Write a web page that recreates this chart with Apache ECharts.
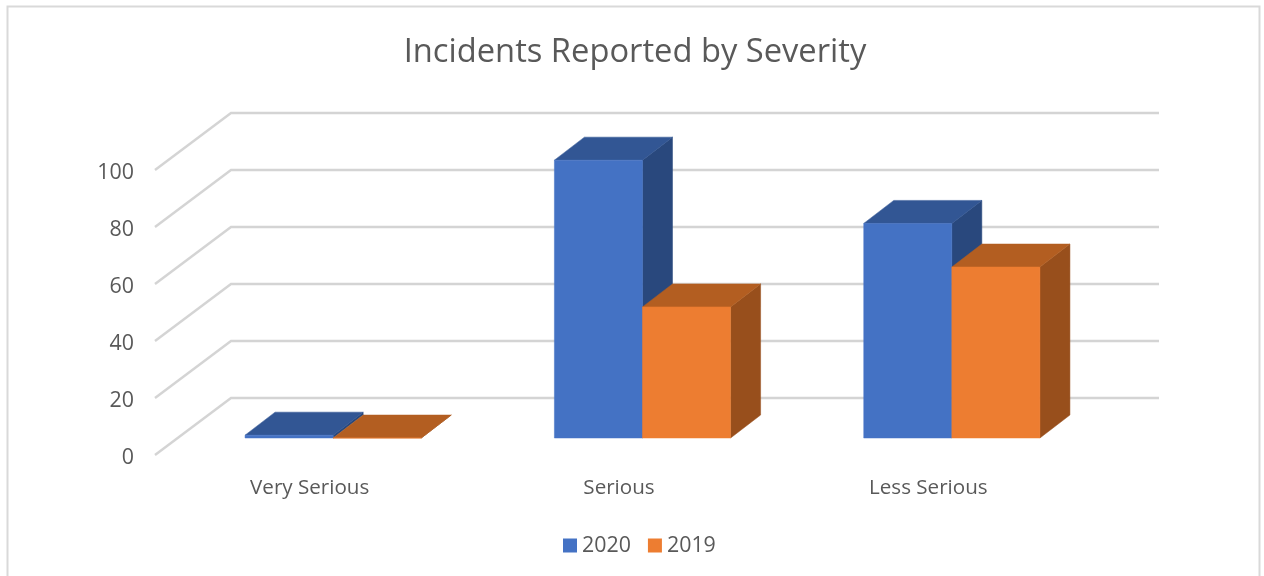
<!DOCTYPE html>
<html>
<head>
<meta charset="utf-8">
<style>html,body{margin:0;padding:0;background:#fff}#c{width:1264px;height:576px}</style>
<script src="https://cdn.jsdelivr.net/npm/echarts@6/dist/echarts.min.js"></script>
</head>
<body>
<div id="c"></div>
<script>
const titleText = 'Incidents Reported by Severity';
const categories = ['Very Serious', 'Serious', 'Less Serious'];
const values2020 = [1, 97.5, 75.3];
const values2019 = [0, 46, 60];
const gridTicks = [0, 20, 40, 60, 80, 100];

const FONT = '"Open Sans", "Noto Sans", sans-serif';
const TEXT = '#595959';
// oblique projection of the chart's depth, in pixels
const WALL = [76, -57];
const BAR_OFFSET = [23.5, -17];
const BAR_DEPTH = [30, -23];
const BAR_SHARE = 88 / 309;

function barRender(sign, front, top, side) {
  return function (params, api) {
    const cat = api.value(0), val = api.value(1);
    const base = api.coord([cat, 0]);
    const head = api.coord([cat, val]);
    const w = api.size([1, 0])[0] * BAR_SHARE;
    const x0 = base[0] + BAR_OFFSET[0] + (sign < 0 ? -w : 0);
    const x1 = x0 + w;
    const yb = base[1] + BAR_OFFSET[1];
    const yt = head[1] + BAR_OFFSET[1];
    const dx = BAR_DEPTH[0], dy = BAR_DEPTH[1];
    const poly = (pts, c) => ({
      type: 'polygon',
      shape: { points: pts },
      style: { fill: c, stroke: c, lineWidth: 0.5 }
    });
    return {
      type: 'group',
      children: [
        poly([[x1, yb], [x1 + dx, yb + dy], [x1 + dx, yt + dy], [x1, yt]], side),
        poly([[x0, yt], [x1, yt], [x1 + dx, yt + dy], [x0 + dx, yt + dy]], top),
        poly([[x0, yb], [x1, yb], [x1, yt], [x0, yt]], front)
      ]
    };
  };
}

function gridRender(params, api) {
  const p = api.coord([0, api.value(1)]);
  const cs = params.coordSys;
  const xa = cs.x, y = p[1];
  return {
    type: 'polyline',
    shape: { points: [[xa, y], [xa + WALL[0], y + WALL[1]], [xa + cs.width + WALL[0], y + WALL[1]]] },
    style: { fill: 'none', stroke: '#d4d4d4', lineWidth: 2.4 }
  };
}

const chart = echarts.init(document.getElementById('c'), null, { renderer: 'canvas' });
chart.setOption({
  animation: false,
  backgroundColor: '#fff',
  textStyle: { fontFamily: FONT },
  title: {
    text: titleText,
    left: 630,
    top: 31,
    textAlign: 'center',
    textStyle: { fontFamily: FONT, fontSize: 32.7, fontWeight: 'normal', color: TEXT }
  },
  legend: {
    data: ['2020', '2019'],
    left: 558,
    top: 530,
    icon: 'rect',
    itemWidth: 14,
    itemHeight: 14,
    itemGap: 17,
    textStyle: { fontFamily: FONT, fontSize: 21.4, color: TEXT, padding: [0, 0, 0, 0] }
  },
  grid: { left: 155, width: 928, top: 170, height: 285 },
  xAxis: {
    type: 'category',
    data: categories,
    axisLine: { show: false },
    axisTick: { show: false },
    splitLine: { show: false },
    axisLabel: { fontFamily: FONT, fontSize: 20.6, color: TEXT, margin: 23 }
  },
  yAxis: {
    type: 'value',
    min: 0,
    max: 100,
    interval: 20,
    axisLine: { show: false },
    axisTick: { show: false },
    splitLine: { show: false },
    axisLabel: { fontFamily: FONT, fontSize: 21.4, color: TEXT, margin: 21, verticalAlign: 'top', lineHeight: 6 }
  },
  graphic: [{
    type: 'rect',
    silent: true,
    z: -10,
    shape: { x: 7.5, y: 6.5, width: 1252, height: 600 },
    style: { fill: 'none', stroke: '#d9d9d9', lineWidth: 2 }
  }],
  series: [
    {
      name: 'walls', type: 'custom', silent: true, clip: false, z: 1,
      data: gridTicks.map(t => [0, t]),
      encode: { x: 0, y: 1 },
      renderItem: gridRender
    },
    {
      name: '2020', type: 'custom', clip: false, z: 2,
      itemStyle: { color: '#4472c4' },
      data: values2020.map((v, i) => [i, v]),
      encode: { x: 0, y: 1 },
      renderItem: barRender(-1, '#4472c4', '#325694', '#29487d')
    },
    {
      name: '2019', type: 'custom', clip: false, z: 3,
      itemStyle: { color: '#ed7d31' },
      data: values2019.map((v, i) => [i, v]),
      encode: { x: 0, y: 1 },
      renderItem: barRender(1, '#ed7d31', '#b35e21', '#984f1c')
    }
  ]
});
</script>
</body>
</html>
